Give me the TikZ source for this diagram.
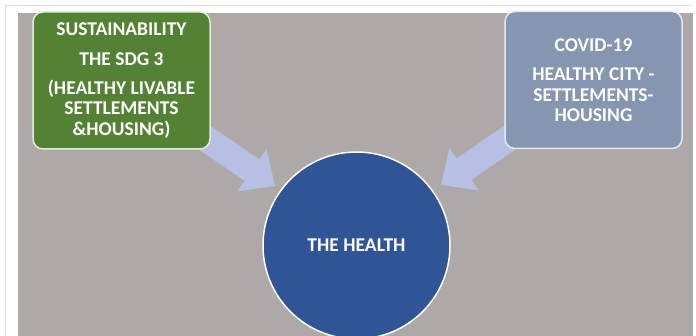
\documentclass[tikz,border=0pt]{standalone}
\usepackage{fontspec}
\setmainfont{Carlito}
\usetikzlibrary{arrows.meta}

\definecolor{panelgray}{RGB}{174,169,166}
\definecolor{sdggreen}{RGB}{84,130,53}
\definecolor{sdgedge}{RGB}{226,236,214}
\definecolor{covidblue}{RGB}{132,150,176}
\definecolor{covidedge}{RGB}{228,232,240}
\definecolor{healthblue}{RGB}{47,85,151}
\definecolor{flowblue}{RGB}{182,192,228}
\definecolor{frameline}{RGB}{222,222,222}

\pgfdeclarelayer{back}
\pgfsetlayers{back,main}

\tikzset{
  labeltext/.style={text=white, font=\fontsize{19.5}{20.5}\selectfont\bfseries},
  box/.style={rectangle, rounded corners=10pt, line width=1.5pt,
    minimum width=177pt, minimum height=137pt, align=center, inner sep=0pt, labeltext},
  hub/.style={circle, fill=healthblue, draw=white, line width=1.5pt,
    minimum size=187pt, inner sep=0pt, labeltext},
  flow/.style={draw=flowblue, line width=26pt,
    -{Triangle[width=50pt,length=28pt,fill=flowblue]}}
}

\begin{document}
\begin{tikzpicture}[x=1pt,y=-1pt]
  \useasboundingbox (0,0) rectangle (696,336);
  \clip (0,0) rectangle (696,336);

  % nodes
  \node[box, fill=sdggreen, draw=sdgedge] (sdg) at (121.5,80.5)
    {SUSTAINABILITY\\[10pt]THE SDG 3\\[8pt](HEALTHY LIVABLE\\SETTLEMENTS\\\&HOUSING)};
  \node[box, fill=covidblue, draw=covidedge] (covid) at (593.5,80)
    {COVID-19\\[9pt]HEALTHY CITY -\\SETTLEMENTS-\\HOUSING};
  \node[hub] (health) at (356.5,245.5) {THE HEALTH};
  \coordinate (tipL) at (275,186);
  \coordinate (tipR) at (441,185);

  % page, slide panel and block arrows behind the nodes
  \begin{pgfonlayer}{back}
    \fill[white] (0,0) rectangle (696,336);
    \draw[frameline, line width=1pt] (5.5,336) -- (5.5,5.5) -- (692,5.5);
    \fill[panelgray] (18,13) rectangle (693,336);
    \draw[flow] (sdg.center) -- (tipL);
    \draw[flow] (covid.center) -- (tipR);
  \end{pgfonlayer}
\end{tikzpicture}
\end{document}
